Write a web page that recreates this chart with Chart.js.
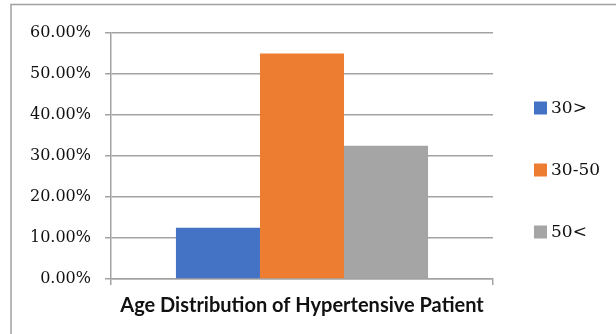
<!DOCTYPE html>
<html>
<head>
<meta charset="utf-8">
<script src="https://cdn.jsdelivr.net/npm/chart.js@4/dist/chart.umd.min.js"></script>
<style>
html,body{margin:0;padding:0;background:#fff;}
#wrap{position:relative;width:616px;height:334px;}
</style>
</head>
<body>
<div id="wrap"><canvas id="c" width="616" height="334"></canvas></div>
<script>
const categories = ['Age Distribution of Hypertensive Patient'];
const seriesLabels = ['30>', '30-50', '50<'];
const values30 = [12.5];
const values3050 = [55.0];
const values50 = [32.5];
const seriesColors = ['#4472C4', '#ED7D31', '#A5A5A5'];
const yTickMin = 0, yTickMax = 60, yTickStep = 10;

const gridColor = '#a3a3a3';

const framePlugin = {
  id: 'frame',
  beforeDraw(chart) {
    const ctx = chart.ctx;
    ctx.save();
    ctx.strokeStyle = '#a0a0a0';
    ctx.lineWidth = 1.5;
    ctx.beginPath();
    ctx.moveTo(11, 334);
    ctx.lineTo(11, 4.5);
    ctx.lineTo(616, 4.5);
    ctx.stroke();
    ctx.restore();
  }
};

const legendPlugin = {
  id: 'sideLegend',
  afterDraw(chart) {
    const ctx = chart.ctx;
    const ds = chart.data.datasets;
    const x = chart.chartArea.right + 41;
    const spacing = 62;
    const midY = 170;
    ctx.save();
    ctx.font = '17px "DejaVu Serif"';
    ctx.textBaseline = 'middle';
    ds.forEach((d, i) => {
      const cy = midY + (i - (ds.length - 1) / 2) * spacing;
      ctx.fillStyle = d.backgroundColor;
      ctx.fillRect(x, cy - 6.5, 13, 13);
      ctx.fillStyle = '#111';
      ctx.fillText(d.label, x + 17, cy + 1);
    });
    ctx.restore();
  }
};

new Chart(document.getElementById('c'), {
  type: 'bar',
  data: {
    labels: categories,
    datasets: [
      { label: seriesLabels[0], data: values30, backgroundColor: seriesColors[0] },
      { label: seriesLabels[1], data: values3050, backgroundColor: seriesColors[1] },
      { label: seriesLabels[2], data: values50, backgroundColor: seriesColors[2] }
    ]
  },
  options: {
    responsive: false,
    animation: false,
    events: [],
    layout: { padding: { left: 0, top: 33, right: 123, bottom: 0 } },
    datasets: { bar: { categoryPercentage: 0.66, barPercentage: 1.0, borderWidth: 0 } },
    plugins: { legend: { display: false }, tooltip: { enabled: false } },
    scales: {
      x: {
        grid: { display: true, offset: true, drawOnChartArea: false, drawTicks: true, tickLength: 6, color: gridColor, lineWidth: 1.5 },
        border: { display: true, color: gridColor, width: 1.5 },
        ticks: { color: '#111', padding: 9, font: { family: 'Lato', size: 20, weight: 'bold' } },
        afterFit(scale) { scale.height = 55; }
      },
      y: {
        min: yTickMin, max: yTickMax,
        grid: { color: gridColor, lineWidth: 1.5, tickLength: 6, drawTicks: true },
        border: { display: true, color: gridColor, width: 1.5 },
        ticks: {
          stepSize: yTickStep,
          padding: 14,
          color: '#111',
          font: { family: 'DejaVu Serif', size: 16 },
          callback: v => v.toFixed(2) + '%'
        },
        afterFit(scale) { scale.width = 111; }
      }
    }
  },
  plugins: [framePlugin, legendPlugin]
});
</script>
</body>
</html>
